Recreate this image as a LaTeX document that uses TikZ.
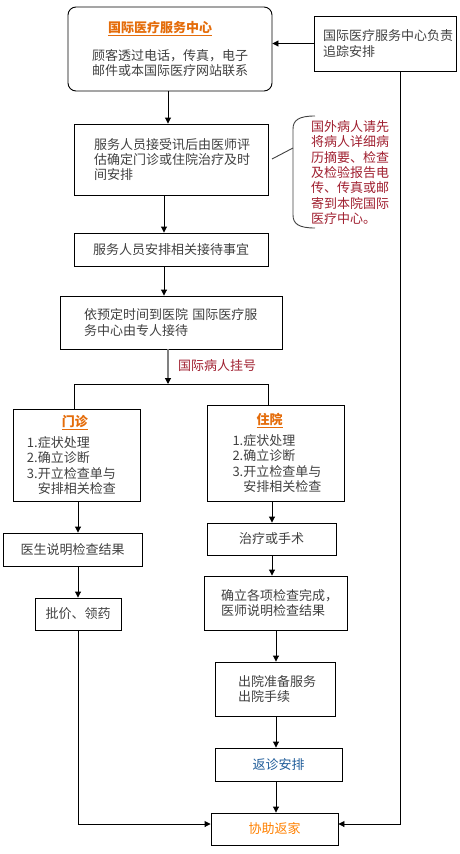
\documentclass[tikz,border=0pt]{standalone}
\usepackage{fontspec}
\setmainfont{Noto Sans CJK SC}
\usetikzlibrary{arrows.meta,calc}
\definecolor{txt}{RGB}{64,64,64}
\definecolor{orng}{RGB}{228,108,10}
\definecolor{orng2}{RGB}{255,128,0}
\definecolor{dred}{RGB}{160,32,48}
\definecolor{blu}{RGB}{31,92,153}
\begin{document}
\begin{tikzpicture}[x=1pt,y=-1pt,
  every node/.style={font=\fontsize{13}{15.3}\selectfont, text=txt},
  box/.style={draw=black, line width=0.9pt, inner ysep=0pt},
  arr/.style={-{Triangle[length=6pt,width=6pt]}, line width=0.9pt},
  ttl/.style={}]
\useasboundingbox (0,0) rectangle (460,854);
% boxes
\node[box, rounded corners=8pt, minimum width=204pt, minimum height=84pt, align=center] (b1) at (170,49)
  {\hspace*{-20pt}{\color{orng}\bfseries\underline{国际医疗服务中心}}\\[12.7pt]顾客透过电话，传真，电子\\邮件或本国际医疗网站联系};
\node[box, minimum width=142pt, minimum height=55pt, inner xsep=9pt, text width=124pt, align=left] (rb) at (385,43.5)
  {国际医疗服务中心负责\\追踪安排};
\node[box, minimum width=194pt, minimum height=71pt, inner xsep=20pt, text width=154pt, align=left] (b2) at (171,159.5)
  {服务人员接受讯后由医师评\\估确定门诊或住院治疗及时\\间安排};
\node[inner sep=0pt, text width=78pt, align=left, text=dred] (note) at (350,172.5)
  {国外病人请先\\将病人详细病\\历摘要、检查\\及检验报告电\\传、传真或邮\\寄到本院国际\\医疗中心。};
\node[box, minimum width=194pt, minimum height=33pt, align=center] (b3) at (171,249.5)
  {服务人员安排相关接待事宜};
\node[box, minimum width=222pt, minimum height=53pt, inner xsep=24pt, text width=174pt, align=left] (b4) at (171,322.5)
  {依预定时间到医院 国际医疗服\\务中心由专人接待};
\node[anchor=west, inner sep=0pt, text=dred] (lbl) at (178,366) {国际病人挂号};
\node[box, minimum width=127pt, minimum height=92pt, inner xsep=14pt, text width=99pt, align=left] (b5) at (76.5,455)
  {\hspace*{35pt}{\color{orng}\bfseries\underline{门诊}}\\[5.7pt]1.症状处理\\2.确立诊断\\3.开立检查单与\\\phantom{3.}安排相关检查};
\node[box, minimum width=137pt, minimum height=96pt, inner xsep=25.5pt, text width=86pt, align=left] (b6) at (275.5,453)
  {\hspace*{24pt}{\color{orng}\bfseries\underline{住院}}\\[5.7pt]1.症状处理\\2.确立诊断\\3.开立检查单与\\\phantom{3.}安排相关检查};
\node[box, minimum width=139pt, minimum height=33pt, align=center] (b7) at (72.5,549.5) {医生说明检查结果};
\node[box, minimum width=86pt, minimum height=32pt, align=center] (b8) at (78,614) {批价、领药};
\node[box, minimum width=129pt, minimum height=32pt, align=center] (b9) at (271.5,539) {治疗或手术};
\node[box, minimum width=143pt, minimum height=54pt, inner xsep=17pt, text width=109pt, align=left] (b10) at (275.5,603)
  {确立各项检查完成，\\医师说明检查结果};
\node[box, minimum width=120pt, minimum height=54pt, inner xsep=23pt, text width=74pt, align=left] (b11) at (275,689)
  {出院准备服务\\出院手续};
\node[box, minimum width=127pt, minimum height=33pt, align=center, text=blu] (b12) at (278.5,764.5) {返诊安排};
\node[box, minimum width=127pt, minimum height=32pt, align=center, text=orng2] (b13) at (274.5,829) {协助返家};
% helper coordinates
\coordinate (xa) at (168,0);
\coordinate (xb) at (164,0);
\coordinate (sp) at (168,384);
\coordinate (spL) at (74,384);
\coordinate (spR) at (268,384);
\coordinate (xl) at (78,0);
\coordinate (xr) at (272,0);
\coordinate (xr2) at (276,0);
\coordinate (xv) at (400,0);
\coordinate (yj) at (0,824);
\coordinate (bs) at (272,159);
\coordinate (bt) at (293,148);
% connectors
\draw[arr] (rb.west) -- (rb.west -| b1.east);
\draw[arr] (b1.south -| xa) -- (b2.north -| xa);
\draw[arr] (b2.south -| xb) -- (b3.north -| xb);
\draw[arr] (b3.south -| xb) -- (b4.north -| xb);
\draw[line width=1.2pt, draw=gray, -{Triangle[length=6pt,width=6pt,color=black]}] (b4.south -| sp) -- (sp);
\draw[line width=0.9pt] (b5.north -| spL) -- (spL) -- (spR) -- (b6.north -| spR);
\draw[arr] (b5.south -| xl) -- (b7.north -| xl);
\draw[arr] (b7.south -| xl) -- (b8.north -| xl);
\draw[arr] (b8.south) |- (b13.west |- yj);
\draw[arr] (b6.south -| xr) -- (b9.north -| xr);
\draw[arr] (b9.south -| xr) -- (b10.north -| xr);
\draw[arr] (b10.south -| xr2) -- (b11.north -| xr2);
\draw[arr] (b11.south -| xr2) -- (b12.north -| xr2);
\draw[arr] (b12.south -| xr2) -- (b13.north -| xr2);
\draw[arr] (rb.south -| xv) |- (b13.east |- yj);
% brace
\draw[line width=0.9pt, draw=txt] (bs) -- (bt);
\draw[line width=0.9pt, draw=txt] (315,116) .. controls (299,116) and (293,120) .. (293,129) -- (293,215) .. controls (293,224) and (299,228) .. (315,228);
\end{tikzpicture}
\end{document}
